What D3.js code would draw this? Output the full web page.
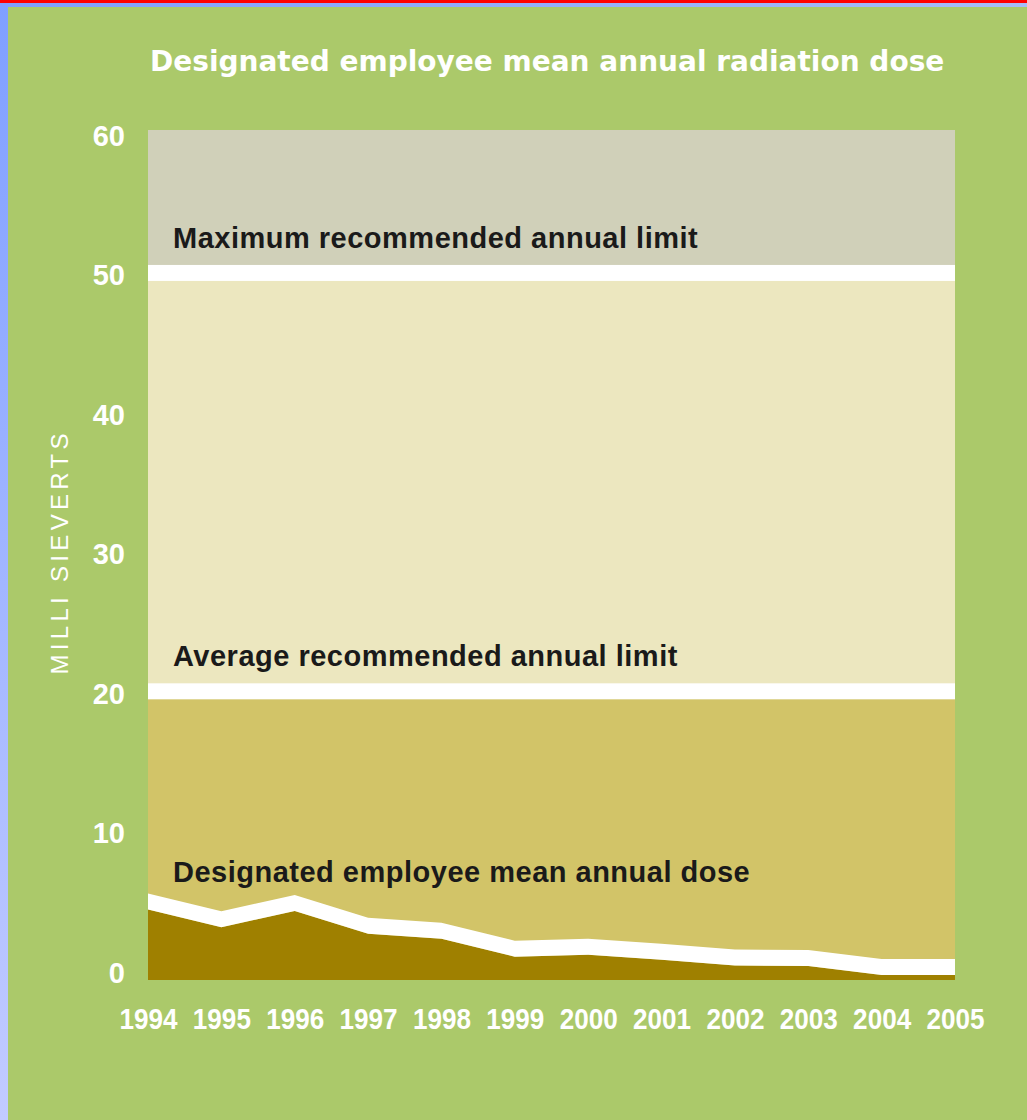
<!DOCTYPE html>
<html><head><meta charset="utf-8">
<script src="https://cdn.jsdelivr.net/npm/d3@7/dist/d3.min.js"></script>
<style>html,body{margin:0;padding:0;background:#abc96a;overflow:hidden}</style>
</head><body>
<script>
// ---- data ----
const years = [1994,1995,1996,1997,1998,1999,2000,2001,2002,2003,2004,2005];
const doseValues = [4.93,3.66,4.83,3.19,2.83,1.54,1.68,1.32,0.91,0.87,0.23,0.23];
const limitValues = [50, 20];
const limitLabels = ["Maximum recommended annual limit", "Average recommended annual limit"];
const doseLabel = "Designated employee mean annual dose";
const yTicks = [0,10,20,30,40,50,60];
const yExtent = [-0.7, 60.25];
const titleText = "Designated employee mean annual radiation dose";
const yAxisTitle = "MILLI SIEVERTS";

// ---- layout ----
const W = 1027, H = 1120;
const plot = {left:148, right:955, top:130, bottom:980};
const colors = {bg:"#abc96a", top:"#d0d0b9", mid:"#ece7bf", low:"#d2c468", dose:"#9f8000", white:"#ffffff"};

const svg = d3.select("body").append("svg").attr("width", W).attr("height", H);
const defs = svg.append("defs");
const lg = defs.append("linearGradient").attr("id","lstrip").attr("x1",0).attr("y1",0).attr("x2",0).attr("y2",1);
lg.append("stop").attr("offset","0%").attr("stop-color","#7f9fff");
lg.append("stop").attr("offset","100%").attr("stop-color","#c2cbff");
const tg = defs.append("linearGradient").attr("id","tstrip").attr("x1",0).attr("y1",0).attr("x2",1).attr("y2",0);
tg.append("stop").attr("offset","0%").attr("stop-color","#7f9fff");
tg.append("stop").attr("offset","100%").attr("stop-color","#a6bdf8");

svg.append("rect").attr("width",W).attr("height",H).attr("fill",colors.bg);
svg.append("rect").attr("x",0).attr("y",0).attr("width",8).attr("height",H).attr("fill","url(#lstrip)");
svg.append("rect").attr("x",0).attr("y",3).attr("width",W).attr("height",4).attr("fill","url(#tstrip)");
svg.append("rect").attr("x",0).attr("y",0).attr("width",W).attr("height",3).attr("fill","#ff0000");

const x = d3.scaleLinear().domain([years[0], years[years.length-1]]).range([plot.left, plot.right]);
const y = d3.scaleLinear().domain(yExtent).range([plot.bottom, plot.top]);

// zones
const zoneBounds = [yExtent[1], limitValues[0], limitValues[1], yExtent[0]];
const zoneColors = [colors.top, colors.mid, colors.low];
svg.append("g").selectAll("rect").data(zoneColors).join("rect")
  .attr("x", plot.left).attr("width", plot.right - plot.left)
  .attr("y", (d,i) => y(zoneBounds[i]))
  .attr("height", (d,i) => y(zoneBounds[i+1]) - y(zoneBounds[i]))
  .attr("fill", d => d);

// limit bands
const bandHalf = 8;
svg.append("g").selectAll("rect").data(limitValues).join("rect")
  .attr("x", plot.left).attr("width", plot.right - plot.left)
  .attr("y", d => y(d) - bandHalf).attr("height", bandHalf*2)
  .attr("fill", colors.white);

// dose area
const pts = years.map((yr,i) => ({yr, v: doseValues[i]}));
svg.append("path").datum(pts)
  .attr("d", d3.area().x(d => x(d.yr)).y0(plot.bottom).y1(d => y(d.v) + bandHalf))
  .attr("fill", colors.dose);
svg.append("path").datum(pts)
  .attr("d", d3.area().x(d => x(d.yr)).y0(d => y(d.v) + bandHalf).y1(d => y(d.v) - bandHalf))
  .attr("fill", colors.white);

// annotation labels
const annFont = "'Liberation Sans', Arial, sans-serif";
svg.append("g").selectAll("text").data(limitLabels).join("text")
  .attr("x", 173).attr("y", (d,i) => y(limitValues[i]) - 25)
  .attr("font-family", annFont).attr("font-weight", "bold").attr("font-size", 29)
  .attr("letter-spacing", 0.5).attr("fill", "#1a1a1a").text(d => d);
svg.append("text").attr("x", 173).attr("y", y(d3.max(doseValues)) - 19)
  .attr("font-family", annFont).attr("font-weight", "bold").attr("font-size", 29)
  .attr("letter-spacing", 0.5).attr("fill", "#1a1a1a").text(doseLabel);

// axes
const tickFont = "'Liberation Sans', Arial, sans-serif";
const gx = svg.append("g").attr("transform", `translate(0,${plot.bottom})`)
  .call(d3.axisBottom(x).tickValues(years).tickFormat(d3.format("d")).tickSize(0));
gx.select(".domain").remove();
gx.selectAll("text").attr("y", 49).attr("dy", null)
  .attr("font-family", tickFont).attr("font-weight", "bold").attr("font-size", 29)
  .attr("fill", "#ffffff").attr("transform", "scale(0.9,1)");

const gy = svg.append("g").attr("transform", `translate(${plot.left},0)`)
  .call(d3.axisLeft(y).tickValues(yTicks).tickFormat(d3.format("d")).tickSize(0));
gy.select(".domain").remove();
gy.selectAll("text").attr("x", -23).attr("dy", null).attr("y", 12)
  .attr("font-family", tickFont).attr("font-weight", "bold").attr("font-size", 29)
  .attr("fill", "#ffffff");

// y axis title
svg.append("text").attr("transform", `translate(68,${y(30)}) rotate(-90)`)
  .attr("text-anchor", "middle").attr("font-family", tickFont).attr("font-size", 24)
  .attr("letter-spacing", 4.3).attr("fill", "#ffffff").text(yAxisTitle);

// title
svg.append("text").attr("x", 150).attr("y", 71)
  .attr("font-family", "'DejaVu Sans', Verdana, sans-serif").attr("font-weight", "bold")
  .attr("font-size", 28).attr("fill", "#ffffff").text(titleText);
</script>
</body></html>
